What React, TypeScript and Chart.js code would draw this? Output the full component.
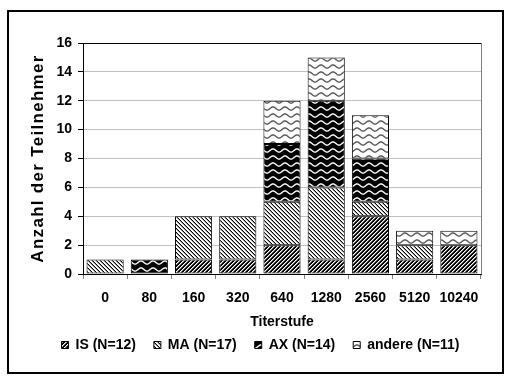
import { useEffect, useRef } from 'react';
import { Chart, registerables } from 'chart.js';

Chart.register(...registerables);

const categories = ['0', '80', '160', '320', '640', '1280', '2560', '5120', '10240'];
const seriesLabels = ['IS (N=12)', 'MA (N=17)', 'AX (N=14)', 'andere (N=11)'];
const isValues = [null, null, 1, 1, 2, 1, 4, 1, 2];
const maValues = [1, null, 3, 3, 3, 5, 1, 1, null];
const axValues = [null, 1, null, null, 4, 6, 3, null, null];
const andereValues = [null, null, null, null, 3, 3, 3, 1, 1];
const yMin = 0;
const yMax = 16;
const yStep = 2;
const xTitle = 'Titerstufe';
const yTitle = 'Anzahl der Teilnehmer';

const FONT = "'Liberation Sans', Arial, sans-serif";

function makePattern(kind: string): CanvasPattern | string {
  const c = document.createElement('canvas');
  let ctx: CanvasRenderingContext2D | null = null;
  if (kind === 'IS') {
    c.width = 4; c.height = 4;
    ctx = c.getContext('2d')!;
    ctx.fillStyle = '#000'; ctx.fillRect(0, 0, 4, 4);
    for (let i = 0; i < 4; i++) {
      ctx.fillStyle = '#fff';
      ctx.fillRect(i, 3 - i, 1, 1);
      ctx.fillStyle = '#888';
      ctx.fillRect(i, (4 - i) % 4, 1, 1);
    }
  } else if (kind === 'MA') {
    c.width = 4; c.height = 4;
    ctx = c.getContext('2d')!;
    ctx.fillStyle = '#fff'; ctx.fillRect(0, 0, 4, 4);
    for (let i = 0; i < 4; i++) {
      ctx.fillStyle = '#000';
      ctx.fillRect(i, i, 1, 1);
      ctx.fillStyle = '#999';
      ctx.fillRect(i, (i + 1) % 4, 1, 1);
    }
  } else {
    c.width = 12; c.height = 7;
    ctx = c.getContext('2d')!;
    ctx.fillStyle = kind === 'AX' ? '#000' : '#fff';
    ctx.fillRect(0, 0, 12, 7);
    ctx.strokeStyle = kind === 'AX' ? '#fff' : '#555';
    ctx.lineWidth = 1.4;
    ctx.beginPath();
    for (let x = -1; x <= 13; x += 0.5) {
      const y = 3.5 + 1.6 * Math.sin((2 * Math.PI * x) / 12);
      if (x === -1) ctx.moveTo(x, y); else ctx.lineTo(x, y);
    }
    ctx.stroke();
  }
  const p = ctx!.createPattern(c, 'repeat');
  return p || '#888';
}

const framePlugin = {
  id: 'frame',
  afterLayout(chart: any) {
    const lg = chart.legend;
    if (lg) {
      lg.left += 20; lg.right += 20;
      lg.top -= 11; lg.bottom -= 11;
    }
  },
  beforeDraw(chart: any) {
    const s = chart.scales.y;
    if (s && !s.__ls) {
      const orig = s.drawTitle;
      s.drawTitle = function (...args: any[]) {
        const c = this.ctx;
        c.save();
        c.letterSpacing = '1.3px';
        orig.apply(this, args);
        c.restore();
      };
      s.__ls = true;
    }
  },
  afterDraw(chart: any) {
    const { ctx, chartArea: a } = chart;
    ctx.save();
    ctx.strokeStyle = '#000';
    ctx.lineWidth = 1;
    ctx.beginPath();
    ctx.moveTo(Math.round(a.left), Math.round(a.top) + 0.5);
    ctx.lineTo(Math.round(a.right), Math.round(a.top) + 0.5);
    ctx.stroke();
    ctx.strokeStyle = '#808080';
    ctx.beginPath();
    ctx.moveTo(Math.round(a.right) + 0.5, Math.round(a.top));
    ctx.lineTo(Math.round(a.right) + 0.5, Math.round(a.bottom));
    ctx.stroke();
    ctx.strokeStyle = '#000';
    ctx.lineWidth = 2;
    ctx.strokeRect(8, 11, 495, 362);
    ctx.restore();
  },
};

export default function App() {
  const ref = useRef<HTMLCanvasElement | null>(null);
  useEffect(() => {
    if (!ref.current) return;
    const kinds = ['IS', 'MA', 'AX', 'andere'];
    const values = [isValues, maValues, axValues, andereValues];
    const datasets = kinds.map((k, i) => ({
      label: seriesLabels[i],
      data: values[i],
      backgroundColor: makePattern(k),
      borderColor: '#000',
      borderWidth: 1,
      borderSkipped: false,
      barPercentage: 0.84,
      categoryPercentage: 1,
    }));
    const chart = new Chart(ref.current, {
      type: 'bar',
      data: { labels: categories, datasets: datasets as any },
      options: {
        responsive: false,
        animation: false,
        layout: { padding: { top: 43, left: 0, right: 31, bottom: 11 } },
        plugins: {
          legend: {
            position: 'bottom',
            labels: {
              boxWidth: 7,
              boxHeight: 7,
              padding: 18,
              color: '#000',
              font: { family: FONT, size: 14, weight: 'bold' },
            },
          },
          tooltip: { enabled: false },
        },
        scales: {
          x: {
            stacked: true,
            grid: { display: true, drawOnChartArea: false, drawTicks: true, tickLength: 5, offset: true, color: '#808080', tickColor: '#808080' },
            border: { color: '#000', width: 1 },
            ticks: { color: '#000', padding: 11, font: { family: FONT, size: 14, weight: 'bold' }, maxRotation: 0 },
            title: { display: true, text: xTitle, color: '#000', padding: { top: 0, bottom: 0 }, font: { family: FONT, size: 14, weight: 'bold' } },
            afterFit(scale: any) { scale.height = 57; },
          },
          y: {
            stacked: true,
            min: yMin,
            max: yMax,
            ticks: { stepSize: yStep, color: '#000', padding: 6, font: { family: FONT, size: 14, weight: 'bold' } },
            grid: { color: '#c0c0c0', tickColor: '#000', tickLength: 5 },
            border: { color: '#000', width: 1 },
            title: { display: true, text: yTitle, color: '#000', padding: { top: 28, bottom: 0 }, font: { family: FONT, size: 17, weight: 'bold' } },
            afterFit(scale: any) { scale.width = 83; },
          },
        },
      },
      plugins: [framePlugin],
    });
    return () => chart.destroy();
  }, []);
  return (
    <div style={{ position: 'absolute', left: 0, top: 0, width: 512, height: 384, background: '#fff' }}>
      <canvas ref={ref} width={512} height={384} style={{ display: 'block' }} />
    </div>
  );
}
